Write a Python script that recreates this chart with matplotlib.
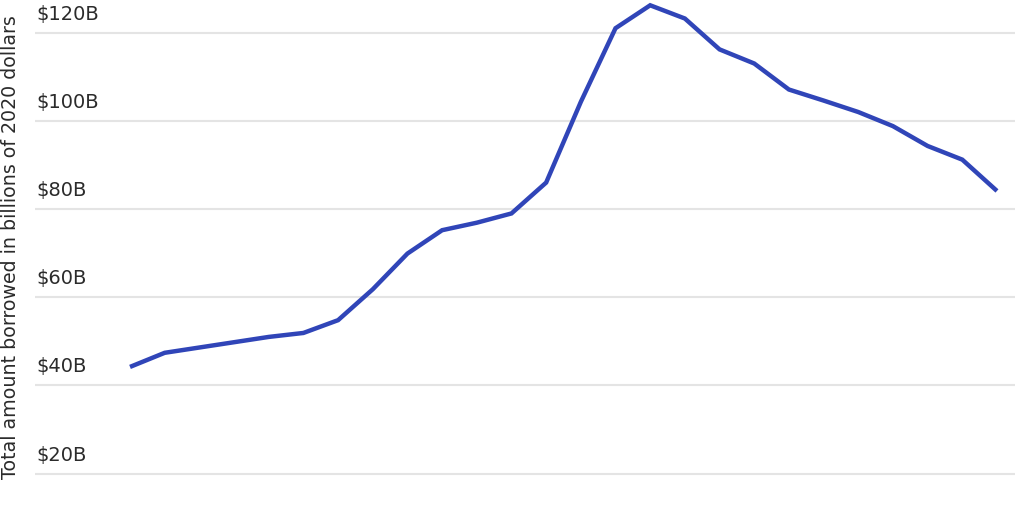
import numpy as np
import matplotlib
matplotlib.use("Agg")
import matplotlib.pyplot as plt

# yearly totals, billions of 2020 dollars
years = list(range(1995, 2021))
borrowed = [44.2, 47.4, 48.6, 49.8, 51.0, 51.9, 54.8, 61.8, 69.9, 75.2,
            76.9, 79.0, 86.0, 104.3, 121.0, 126.2, 123.2, 116.2, 113.0, 107.1,
            104.6, 102.0, 98.8, 94.3, 91.2, 84.1]
yticks = [20, 40, 60, 80, 100, 120]
ytick_labels = ["$20B", "$40B", "$60B", "$80B", "$100B", "$120B"]

plt.rcParams['font.family'] = ['DejaVu Sans']

fig = plt.figure(figsize=(10.24, 5.12), dpi=100)
ax = fig.add_axes([35 / 1024, 0, 980 / 1024, 1])

ax.plot(years, borrowed, color="#3045b8", lw=3.2, solid_joinstyle="miter",
        solid_capstyle="butt", zorder=3)

ax.set_xlim(1995 - 2.74, 2020 + 0.52)
ax.set_ylim(11.3, 127.4)

for v in yticks:
    ax.axhline(v, color="#e4e4e4", lw=1.5, zorder=1)
for v, lab in zip(yticks, ytick_labels):
    ax.annotate(lab, xy=(0.0015, v), xycoords=("axes fraction", "data"),
                xytext=(0, 6.5), textcoords="offset points",
                ha="left", va="bottom", fontsize=14, color="#2b2b2b")

ax.set_xticks([])
ax.set_yticks([])
for s in ax.spines.values():
    s.set_visible(False)

fig.text(11 / 1024, 0.517, "Total amount borrowed in billions of 2020 dollars",
         rotation=90, ha="center", va="center", fontsize=13.7, color="#2b2b2b")

fig.savefig("out.png", dpi=100)
